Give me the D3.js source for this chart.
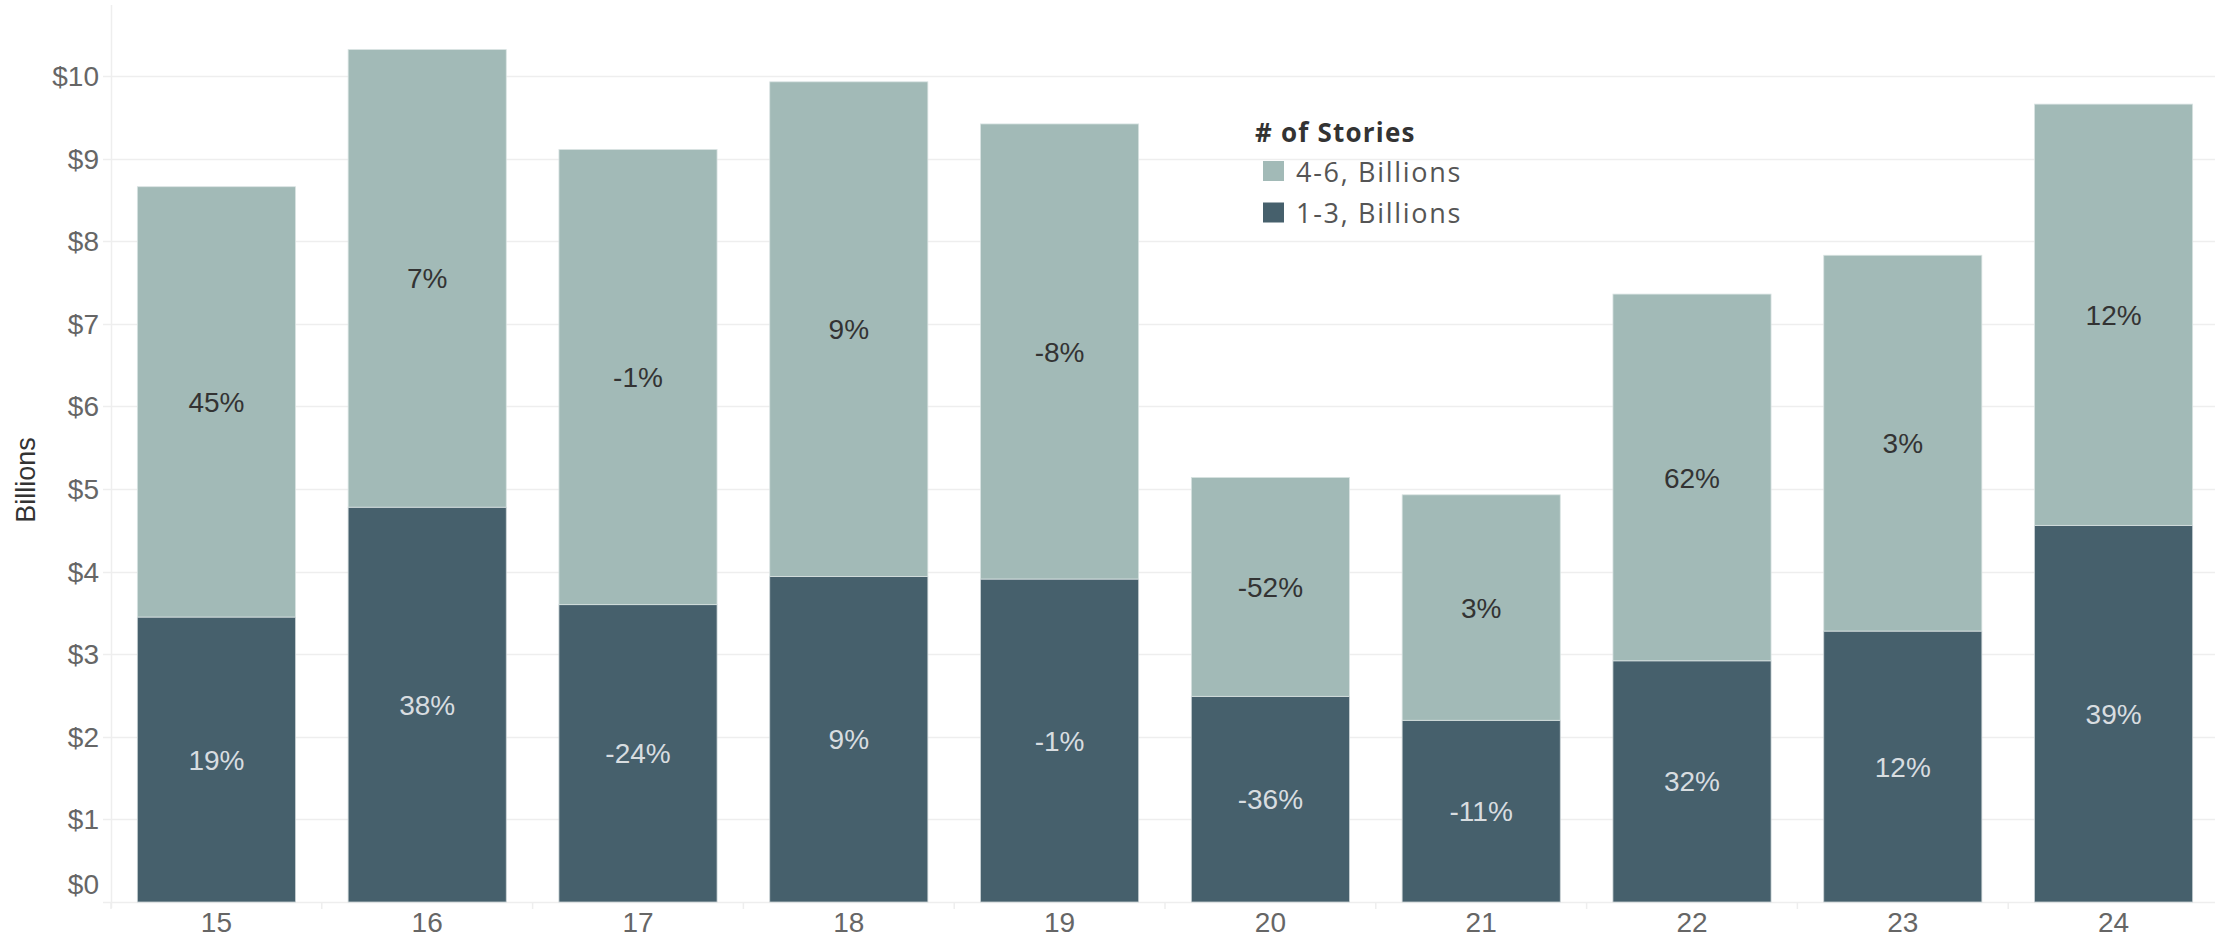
<!DOCTYPE html>
<html>
<head>
<meta charset="utf-8">
<script src="https://cdn.jsdelivr.net/npm/d3@7"></script>
<style>
  html, body { margin: 0; padding: 0; background: #fff; }
  svg { display: block; }
</style>
</head>
<body>
<svg id="chart" width="2215" height="940"></svg>
<script>
// Years (two-digit labels)
const years = ["15", "16", "17", "18", "19", "20", "21", "22", "23", "24"];
// Value in billions, 1-3 story buildings
const low = [3.45, 4.78, 3.60, 3.94, 3.91, 2.49, 2.20, 2.92, 3.28, 4.56];
// Value in billions, 4-6 story buildings
const high = [5.21, 5.54, 5.51, 5.99, 5.51, 2.65, 2.73, 4.44, 4.55, 5.10];
// Year-over-year change labels
const lowPct = ["19%", "38%", "-24%", "9%", "-1%", "-36%", "-11%", "32%", "12%", "39%"];
const highPct = ["45%", "7%", "-1%", "9%", "-8%", "-52%", "3%", "62%", "3%", "12%"];
const yTicks = [0, 1, 2, 3, 4, 5, 6, 7, 8, 9, 10];

const seriesNames = ["4-6, Billions", "1-3, Billions"];
const colors = { high: "#a2bab7", low: "#46606c" };

(function () {
  const svg = d3.select("#chart");
  const plotLeft = 111, plotRight = 2219, plotTop = 5, plotBottom = 902;

  const x = d3.scaleBand().domain(years).range([plotLeft, plotRight]).paddingInner(0.25).paddingOuter(0.125);
  const y = d3.scaleLinear().domain([0, 10.86]).range([plotBottom, plotTop]);

  // Horizontal gridlines with short ticks left of the axis
  svg.append("g").selectAll("line").data(yTicks).join("line")
    .attr("x1", plotLeft - 8).attr("x2", 2215)
    .attr("y1", d => Math.round(y(d)) + 0.5).attr("y2", d => Math.round(y(d)) + 0.5)
    .attr("stroke", "#eeeeee").attr("stroke-width", 1.5);

  // Vertical axis line
  svg.append("line").attr("x1", plotLeft + 0.5).attr("x2", plotLeft + 0.5)
    .attr("y1", plotTop).attr("y2", plotBottom + 6)
    .attr("stroke", "#eeeeee").attr("stroke-width", 1.5);

  // Category divider ticks under baseline
  const step = x.step();
  svg.append("g").selectAll("line").data(d3.range(years.length + 1)).join("line")
    .attr("x1", i => plotLeft + i * step).attr("x2", i => plotLeft + i * step)
    .attr("y1", plotBottom).attr("y2", plotBottom + 7)
    .attr("stroke", "#eeeeee").attr("stroke-width", 1.5);

  // Y tick labels (the zero label is nudged up to clear the baseline)
  const axisFont = "'Liberation Sans', Arial, sans-serif";
  svg.append("g").selectAll("text").data(yTicks).join("text")
    .attr("x", 99).attr("y", d => y(d) - (d === 0 ? 18 : 0))
    .attr("dy", "0.36em")
    .attr("text-anchor", "end")
    .attr("font-family", axisFont).attr("font-size", 28)
    .attr("fill", "#666666")
    .text(d => "$" + d);

  // Y axis title
  svg.append("text")
    .attr("transform", "translate(35,480) rotate(-90)")
    .attr("text-anchor", "middle")
    .attr("font-family", axisFont).attr("font-size", 27)
    .attr("fill", "#333333")
    .text("Billions");

  // X tick labels
  svg.append("g").selectAll("text").data(years).join("text")
    .attr("x", d => x(d) + x.bandwidth() / 2).attr("y", 932)
    .attr("text-anchor", "middle")
    .attr("font-family", axisFont).attr("font-size", 28)
    .attr("fill", "#666666")
    .text(d => d);

  // Stacked bars
  const bars = svg.append("g");
  years.forEach((yr, i) => {
    const x0 = x(yr), w = x.bandwidth();
    bars.append("rect")
      .attr("x", x0).attr("width", w)
      .attr("y", y(low[i])).attr("height", y(0) - y(low[i]))
      .attr("fill", colors.low).attr("stroke", "#c9d2d4").attr("stroke-width", 0.8);
    bars.append("rect")
      .attr("x", x0).attr("width", w)
      .attr("y", y(low[i] + high[i])).attr("height", y(low[i]) - y(low[i] + high[i]))
      .attr("fill", colors.high).attr("stroke", "#d9e3e2").attr("stroke-width", 0.8);
  });

  // Segment labels
  const labels = svg.append("g")
    .attr("font-family", axisFont).attr("font-size", 28).attr("text-anchor", "middle");
  years.forEach((yr, i) => {
    const cx = x(yr) + x.bandwidth() / 2;
    labels.append("text")
      .attr("x", cx).attr("y", y(low[i] / 2)).attr("dy", "0.36em")
      .attr("fill", "#d8dde0").text(lowPct[i]);
    labels.append("text")
      .attr("x", cx).attr("y", y(low[i] + high[i] / 2)).attr("dy", "0.36em")
      .attr("fill", "#333333").text(highPct[i]);
  });

  // Legend
  const legendFont = "'Open Sans', Lato, sans-serif";
  const legend = svg.append("g").attr("transform", "translate(1255,0)");
  legend.append("text")
    .attr("x", 0).attr("y", 142)
    .attr("font-family", legendFont).attr("font-weight", "bold").attr("font-size", 26)
    .attr("letter-spacing", 1.2)
    .attr("fill", "#333333").text("# of Stories");
  [colors.high, colors.low].forEach((c, k) => {
    legend.append("rect")
      .attr("x", 8).attr("y", 161 + k * 41.5).attr("width", 21).attr("height", 20)
      .attr("fill", c);
    legend.append("text")
      .attr("x", 41).attr("y", 182 + k * 41)
      .attr("font-family", legendFont).attr("font-size", 27)
      .attr("letter-spacing", 1.7)
      .attr("fill", "#555555").text(seriesNames[k]);
  });
})();
</script>
</body>
</html>
